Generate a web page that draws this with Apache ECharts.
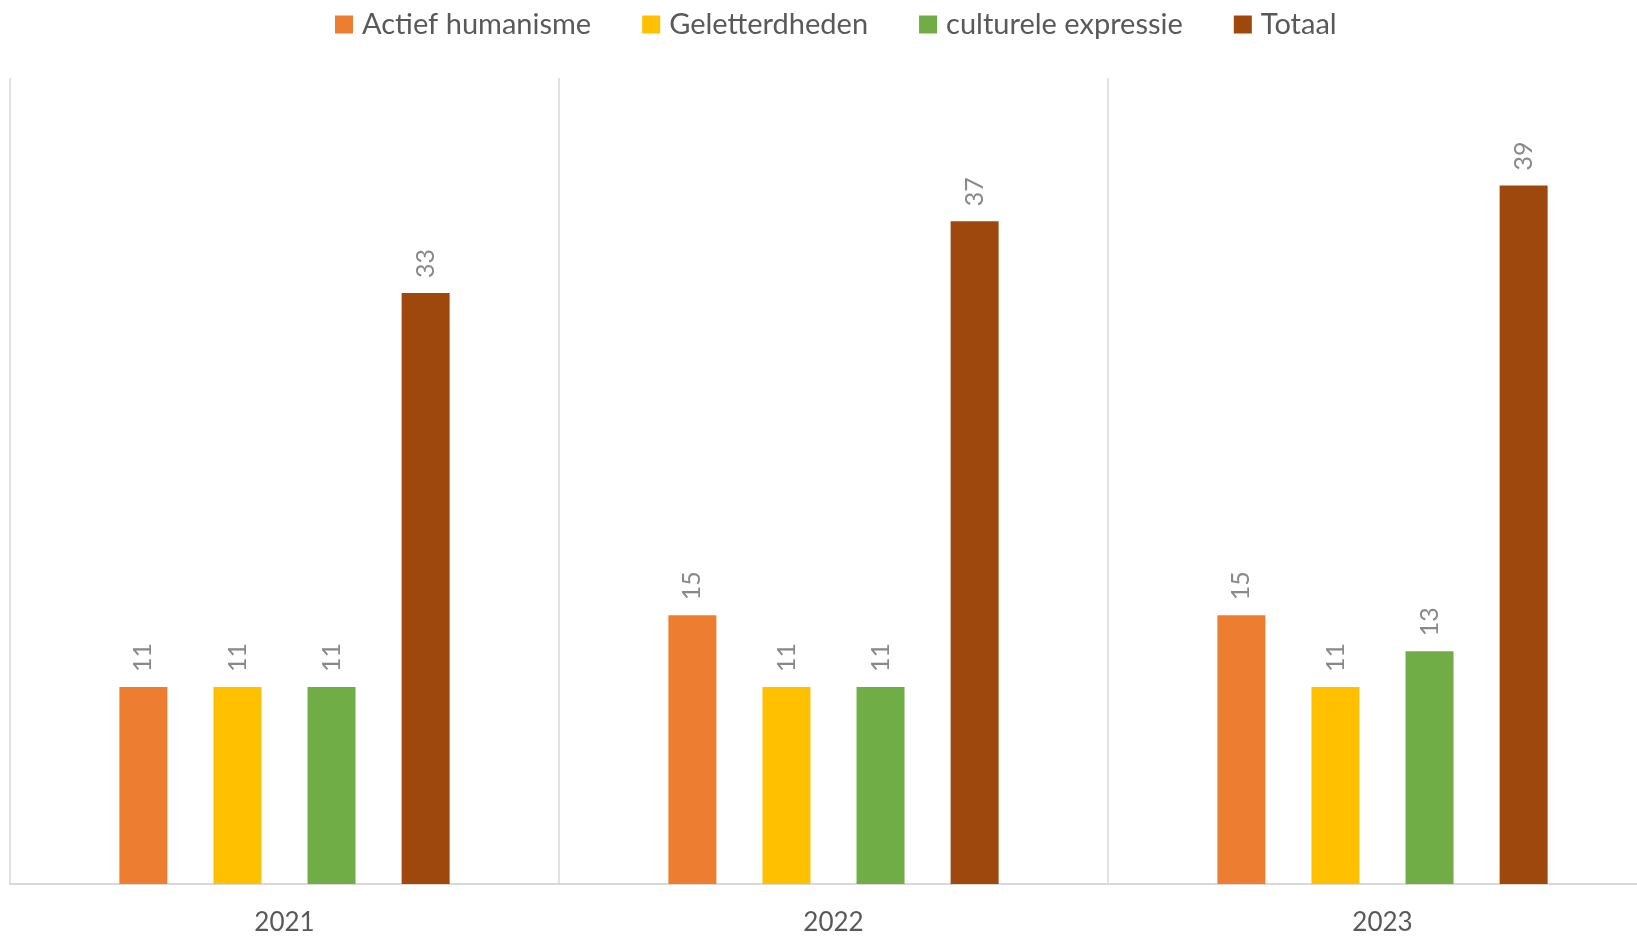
<!DOCTYPE html>
<html>
<head>
<meta charset="utf-8">
<script src="https://cdn.jsdelivr.net/npm/echarts@6/dist/echarts.min.js"></script>
<style>html,body{margin:0;padding:0;background:#fff}#c{width:1637px;height:940px}</style>
</head>
<body>
<div id="c"></div>
<script>
const years = ['2021', '2022', '2023'];
const seriesNames = ['Actief humanisme', 'Geletterdheden', 'culturele expressie', 'Totaal'];
const actiefHumanisme = [11, 15, 15];
const geletterdheden = [11, 11, 11];
const cultureleExpressie = [11, 11, 13];
const totaal = [33, 37, 39];
const colors = ['#ED7D31', '#FFC000', '#70AD47', '#9E480E'];

const FONT = 'Lato, "Liberation Sans", sans-serif';
const values = [actiefHumanisme, geletterdheden, cultureleExpressie, totaal];

const chart = echarts.init(document.getElementById('c'), null, {renderer: 'canvas'});
chart.setOption({
  animation: false,
  backgroundColor: '#ffffff',
  textStyle: {fontFamily: FONT},
  legend: {
    left: 330, top: 5,
    icon: 'rect', itemWidth: 18, itemHeight: 18, itemGap: 51,
    textStyle: {fontSize: 29, color: '#595959', fontFamily: FONT, padding: [0, 0, 0, 4]},
    data: seriesNames
  },
  grid: {left: 10, top: 78, bottom: 56, width: 1647, containLabel: false, outerBoundsMode: 'none'},
  xAxis: {
    type: 'category', data: years,
    axisLine: {show: true, lineStyle: {color: '#d9d9d9', width: 2}},
    axisTick: {show: false},
    splitLine: {show: true, lineStyle: {color: '#d9d9d9', width: 1.5}},
    axisLabel: {fontSize: 26, color: '#595959', margin: 26, fontFamily: FONT}
  },
  yAxis: {
    type: 'value', min: 0, max: 45, show: false,
    splitLine: {show: false}
  },
  series: seriesNames.map((n, i) => ({
    name: n, type: 'bar', data: values[i],
    barWidth: 48, barGap: '96%',
    itemStyle: {color: colors[i]},
    label: {
      show: true, position: 'top', rotate: 90, distance: 15,
      align: 'left', verticalAlign: 'middle',
      fontSize: 25, color: '#898989', fontFamily: FONT
    }
  }))
});
</script>
</body>
</html>
